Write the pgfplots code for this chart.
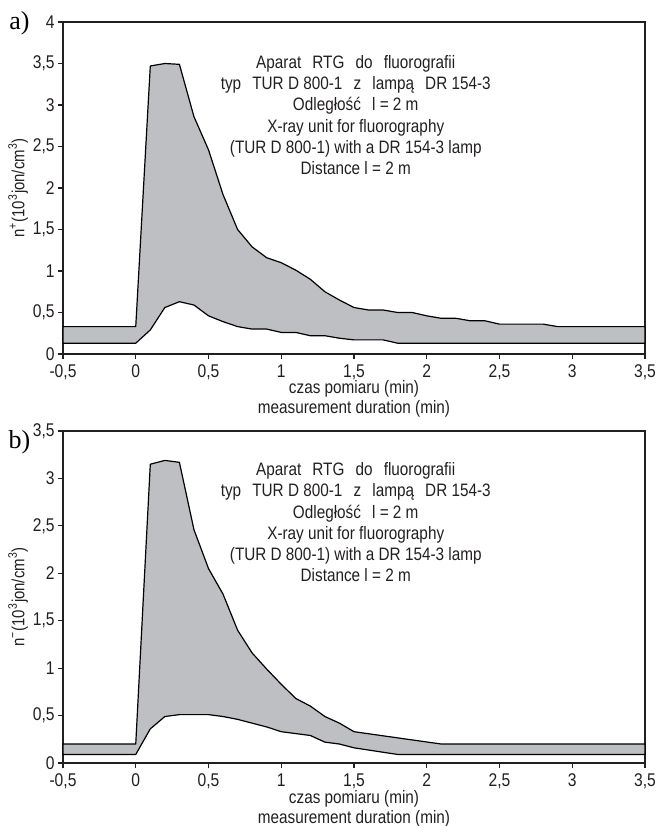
\documentclass[border=0pt]{standalone}
\usepackage{fontspec}
\setmainfont{Liberation Sans}[FakeStretch=0.85]
\newfontfamily\seriffont{Liberation Serif}
\usepackage{pgfplots}
\pgfplotsset{compat=1.18}
\definecolor{bandgray}{RGB}{190,191,195}
\definecolor{txt}{RGB}{35,31,32}
\pgfplotsset{myaxis/.style={
  scale only axis, width=291pt, height=166pt,
  xmin=-0.5, xmax=3.5,
  xtick={-0.5,0,0.5,1,1.5,2,2.5,3,3.5},
  xticklabels={{-0,5},0,{0,5},1,{1,5},2,{2,5},3,{3,5}},
  tick pos=left, tick align=outside, major tick length=2.5pt,
  axis line style={line width=0.6pt, color=txt},
  tick style={line width=0.6pt, color=txt},
  tick label style={font=\fontsize{9.2}{10}\selectfont, text=txt},
  xticklabel style={anchor=base, inner sep=0pt, yshift=-9.2pt},
  yticklabel style={inner sep=1.5pt},
  ylabel style={font=\fontsize{8.8}{10}\selectfont, text=txt,
    at={(axis description cs:-0.077,0.5)}, anchor=center, inner sep=0pt},
  clip=false,
}}
\newcommand{\gap}{\hspace{0.62em}}
\newcommand{\annot}[1]{%
  \begin{scope}[every node/.style={anchor=base, inner sep=0pt, text=txt, font=\fontsize{9}{10}\selectfont}]
  \node[yshift=-#1] at (axis description cs:0.503,1) {Aparat\gap RTG\gap do\gap fluorografii};
  \node[yshift=-#1-10.6pt] at (axis description cs:0.503,1) {typ\gap TUR D 800-1\gap z\gap lampą\gap DR 154-3};
  \node[yshift=-#1-21.2pt] at (axis description cs:0.503,1) {Odległość\gap l = 2 m};
  \node[yshift=-#1-31.8pt] at (axis description cs:0.503,1) {X-ray unit for fluorography};
  \node[yshift=-#1-42.4pt] at (axis description cs:0.503,1) {(TUR D 800-1) with a DR 154-3 lamp};
  \node[yshift=-#1-53pt] at (axis description cs:0.503,1) {Distance l = 2 m};
  \node[yshift=-20pt] at (axis description cs:0.5,0) {czas pomiaru (min)};
  \node[yshift=-30pt] at (axis description cs:0.5,0) {measurement duration (min)};
  \end{scope}}
\begin{document}
\begin{tikzpicture}
\path[use as bounding box] (0,0) rectangle (328pt,413pt);
\begin{axis}[myaxis, at={(31.5pt,236pt)}, anchor=south west,
  ymin=0, ymax=4, ytick={0,0.5,1,1.5,2,2.5,3,3.5,4},
  yticklabels={0,{0,5},1,{1,5},2,{2,5},3,{3,5},4},
  ylabel={n\textsuperscript{+}(10\textsuperscript{3}jon/cm\textsuperscript{3})}]
\addplot[fill=bandgray, draw=black, line width=0.6pt, line join=round] coordinates {
(-0.5,0.33) (0,0.33) (0.1,3.47) (0.2,3.50) (0.3,3.49) (0.4,2.86) (0.5,2.46) (0.6,1.92) (0.7,1.50) (0.8,1.29) (0.9,1.16) (1.0,1.10) (1.1,1.01) (1.2,0.90) (1.3,0.75) (1.4,0.65) (1.5,0.56) (1.6,0.53) (1.7,0.53) (1.8,0.50) (1.9,0.50) (2.0,0.46) (2.1,0.43) (2.2,0.43) (2.3,0.40) (2.4,0.40) (2.5,0.36) (2.8,0.36) (2.9,0.33) (3.5,0.33)
(3.5,0.13) (1.8,0.13) (1.7,0.17) (1.6,0.17) (1.5,0.17) (1.4,0.19) (1.3,0.22) (1.2,0.22) (1.1,0.26) (1.0,0.26) (0.9,0.30) (0.8,0.30) (0.7,0.33) (0.6,0.39) (0.5,0.46) (0.4,0.59) (0.3,0.63) (0.2,0.56) (0.1,0.29) (0,0.13) (-0.5,0.13)
} -- cycle;
\annot{23.2pt}
\node[anchor=center, inner sep=0pt] at (axis description cs:-0.075,0.995) {\seriffont\fontsize{13}{14}\selectfont a)};
\end{axis}
\begin{axis}[myaxis, at={(31.5pt,31.5pt)}, anchor=south west,
  ymin=0, ymax=3.5, ytick={0,0.5,1,1.5,2,2.5,3,3.5},
  yticklabels={0,{0,5},1,{1,5},2,{2,5},3,{3,5}},
  ylabel={n\textsuperscript{−}(10\textsuperscript{3}jon/cm\textsuperscript{3})}]
\addplot[fill=bandgray, draw=black, line width=0.6pt, line join=round] coordinates {
(-0.5,0.20) (0,0.20) (0.1,3.15) (0.2,3.19) (0.3,3.17) (0.4,2.46) (0.5,2.05) (0.6,1.78) (0.7,1.40) (0.8,1.16) (0.9,0.99) (1.0,0.83) (1.1,0.68) (1.2,0.60) (1.3,0.49) (1.4,0.42) (1.5,0.33) (2.1,0.20) (3.5,0.20)
(3.5,0.09) (1.8,0.09) (1.5,0.16) (1.4,0.20) (1.3,0.22) (1.2,0.29) (1.1,0.31) (1.0,0.33) (0.9,0.38) (0.8,0.42) (0.7,0.46) (0.6,0.49) (0.5,0.51) (0.3,0.51) (0.2,0.49) (0.1,0.36) (0,0.09) (-0.5,0.09)
} -- cycle;
\annot{22.3pt}
\node[anchor=center, inner sep=0pt] at (axis description cs:-0.075,0.965) {\seriffont\fontsize{13}{14}\selectfont b)};
\end{axis}
\end{tikzpicture}
\end{document}
